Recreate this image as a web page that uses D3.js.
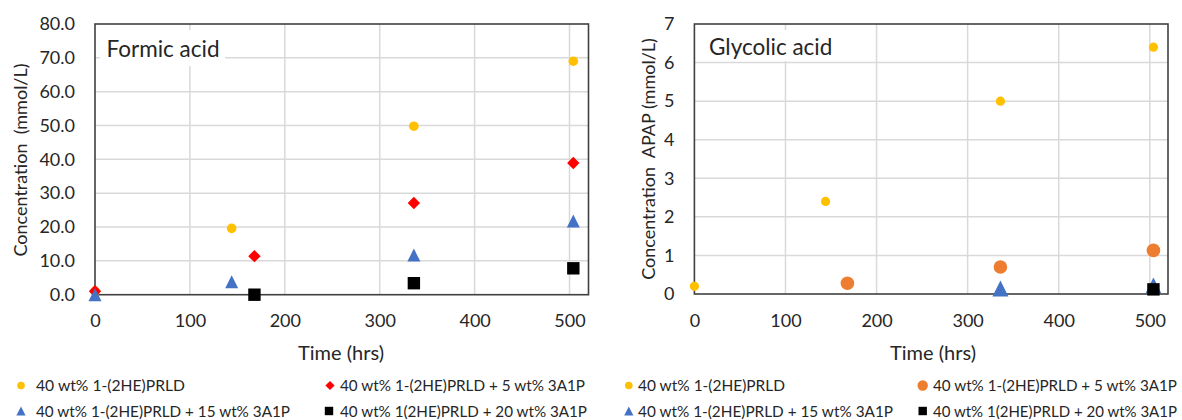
<!DOCTYPE html>
<html>
<head>
<meta charset="utf-8">
<script src="https://cdn.jsdelivr.net/npm/d3@7/dist/d3.min.js"></script>
<style>
  html, body { margin: 0; padding: 0; background: #fff; }
  svg { display: block; font-family: Lato, "Open Sans", sans-serif; }
</style>
</head>
<body>
<svg id="chart" width="1182" height="420"></svg>
<script>
// ---- Formic acid (mmol/L) ----
const formicYellowT = [0, 144, 336, 504];
const formicYellowV = [1.0, 19.6, 49.8, 69.0];
const formicRedT = [0, 168, 336, 504];
const formicRedV = [1.0, 11.4, 27.1, 38.9];
const formicBlueT = [0, 144, 336, 504];
const formicBlueV = [0.0, 3.8, 11.7, 21.8];
const formicBlackT = [168, 336, 504];
const formicBlackV = [0.0, 3.4, 7.8];

// ---- Glycolic acid (mmol/L) ----
const glycYellowT = [0, 144, 336, 504];
const glycYellowV = [0.2, 2.4, 5.0, 6.4];
const glycOrangeT = [168, 336, 504];
const glycOrangeV = [0.28, 0.70, 1.13];
const glycBlueT = [336, 504];
const glycBlueV = [0.14, 0.22];
const glycBlackT = [504];
const glycBlackV = [0.12];

// ---- Ticks and labels ----
const timeTicks = [0, 100, 200, 300, 400, 500];
const formicTicks = [0, 10, 20, 30, 40, 50, 60, 70, 80];
const glycTicks = [0, 1, 2, 3, 4, 5, 6, 7];
const seriesNames = [
  "40 wt% 1-(2HE)PRLD",
  "40 wt% 1-(2HE)PRLD + 5 wt% 3A1P",
  "40 wt% 1-(2HE)PRLD + 15 wt% 3A1P",
  "40 wt% 1(2HE)PRLD + 20 wt% 3A1P"
];

const svg = d3.select("#chart");
const TEXT = "#262626";

// Marker shapes, sized by half-width
const shapes = {
  circle: (g, r) => g.append("circle").attr("r", r),
  diamond: (g, r) => g.append("path").attr("d", `M0,${-r}L${r},0L0,${r}L${-r},0Z`),
  triangle: (g, r) => g.append("path").attr("d", `M0,${-r}L${r},${r}L${-r},${r}Z`),
  square: (g, r) => g.append("rect").attr("x", -r).attr("y", -r).attr("width", 2 * r).attr("height", 2 * r)
};

function drawPanel(cfg) {
  const x = d3.scaleLinear().domain([0, 520]).range([cfg.x0, cfg.x1]);
  const y = d3.scaleLinear().domain([0, cfg.yMax]).range([cfg.yBot, cfg.yTop]);
  const g = svg.append("g");

  // gridlines
  g.append("g").selectAll("line").data(timeTicks.filter(d => d > 0)).join("line")
    .attr("x1", d => x(d)).attr("x2", d => x(d))
    .attr("y1", cfg.yTop).attr("y2", cfg.yBot)
    .attr("stroke", "#d9d9d9").attr("stroke-width", 1.5);
  g.append("g").selectAll("line").data(cfg.yTicks.filter(d => d > 0 && d < cfg.yMax)).join("line")
    .attr("x1", cfg.x0).attr("x2", cfg.x1)
    .attr("y1", d => y(d)).attr("y2", d => y(d))
    .attr("stroke", "#d9d9d9").attr("stroke-width", 1.5);

  // panel title on a white box
  g.append("rect").attr("x", cfg.titleBox[0]).attr("y", cfg.titleBox[1])
    .attr("width", cfg.titleBox[2]).attr("height", cfg.titleBox[3]).attr("fill", "#fff");
  g.append("text").attr("x", cfg.titleX).attr("y", cfg.titleY)
    .attr("font-size", 22.5).attr("fill", TEXT).text(cfg.title);

  // plot border
  g.append("rect").attr("x", cfg.x0).attr("y", cfg.yTop)
    .attr("width", cfg.x1 - cfg.x0).attr("height", cfg.yBot - cfg.yTop)
    .attr("fill", "none").attr("stroke", "#404040").attr("stroke-width", 1.6);

  // y tick labels
  const yAxis = d3.axisLeft(y).tickValues(cfg.yTicks).tickFormat(cfg.fmt).tickSize(0).tickPadding(20);
  const ya = g.append("g").attr("transform", `translate(${cfg.x0},0)`).call(yAxis);
  ya.select(".domain").remove();
  ya.selectAll("text").attr("font-size", 18).attr("fill", TEXT).attr("font-family", "Lato, sans-serif");

  // x tick labels
  const xAxis = d3.axisBottom(x).tickValues(timeTicks).tickFormat(d3.format("d")).tickSize(0).tickPadding(20);
  const xa = g.append("g").attr("transform", `translate(0,${cfg.yBot})`).call(xAxis);
  xa.select(".domain").remove();
  xa.selectAll("text").attr("font-size", 18).attr("fill", TEXT).attr("font-family", "Lato, sans-serif");

  // axis titles
  g.append("text").attr("x", cfg.xTitleX).attr("y", 360).attr("text-anchor", "middle")
    .attr("font-size", 20).attr("fill", TEXT).text("Time (hrs)");
  g.append("text").attr("transform", `translate(${cfg.yTitleX},${cfg.yTitleY}) rotate(-90)`)
    .attr("text-anchor", "middle").attr("font-size", 18).attr("fill", TEXT)
    .style("white-space", "pre").text(cfg.yTitle);

  // points
  cfg.series.forEach(s => {
    const sg = g.append("g").attr("fill", s.color);
    s.t.forEach((t, i) => {
      const m = sg.append("g").attr("transform", `translate(${x(t)},${y(s.v[i])})`);
      shapes[s.shape](m, s.r);
    });
  });

  // legend
  cfg.series.forEach((s, i) => {
    const pos = cfg.legend[i];
    const m = svg.append("g").attr("fill", s.color).attr("transform", `translate(${pos[0]},${pos[1]})`);
    shapes[s.shape](m, s.lr);
    svg.append("text").attr("x", pos[2]).attr("y", pos[1] + 5.5)
      .attr("font-size", 16).attr("fill", TEXT)
      .attr("textLength", pos[3]).attr("lengthAdjust", "spacingAndGlyphs")
      .text(seriesNames[i]);
  });
}

drawPanel({
  x0: 95, x1: 588.5, yTop: 24, yBot: 294.7, yMax: 80,
  yTicks: formicTicks, fmt: d3.format(".1f"),
  title: "Formic acid", titleX: 106.5, titleY: 57, titleBox: [100, 30, 125, 36],
  xTitleX: 341, yTitleX: 27, yTitleY: 160, yTitle: "Concentration  (mmol/L)",
  series: [
    { t: formicYellowT, v: formicYellowV, color: "#FFC000", shape: "circle", r: 4.8, lr: 3.8 },
    { t: formicRedT, v: formicRedV, color: "#FF0000", shape: "diamond", r: 6.2, lr: 4.6 },
    { t: formicBlueT, v: formicBlueV, color: "#4472C4", shape: "triangle", r: 6.5, lr: 4.6 },
    { t: formicBlackT, v: formicBlackV, color: "#000000", shape: "square", r: 6.2, lr: 4.2 }
  ],
  legend: [[21, 385.5, 36, 149], [330, 385.5, 340, 245], [21, 411, 36, 254], [329, 411, 340, 247]]
});

drawPanel({
  x0: 694.4, x1: 1168, yTop: 24, yBot: 294, yMax: 7,
  yTicks: glycTicks, fmt: d3.format("d"),
  title: "Glycolic acid", titleX: 709, titleY: 55, titleBox: [702, 30, 136, 31],
  xTitleX: 933, yTitleX: 655, yTitleY: 159, yTitle: "Concentration  APAP (mmol/L)",
  series: [
    { t: glycYellowT, v: glycYellowV, color: "#FFC000", shape: "circle", r: 4.6, lr: 3.8 },
    { t: glycOrangeT, v: glycOrangeV, color: "#ED7D31", shape: "circle", r: 6.8, lr: 5.2 },
    { t: glycBlueT, v: glycBlueV, color: "#4472C4", shape: "triangle", r: 8, lr: 4.6 },
    { t: glycBlackT, v: glycBlackV, color: "#000000", shape: "square", r: 6.2, lr: 4.2 }
  ],
  legend: [[628.8, 385.5, 638, 147], [922.7, 385.5, 933, 244], [628.8, 411, 638, 255], [922.7, 411, 933, 244]]
});
</script>
</body>
</html>
